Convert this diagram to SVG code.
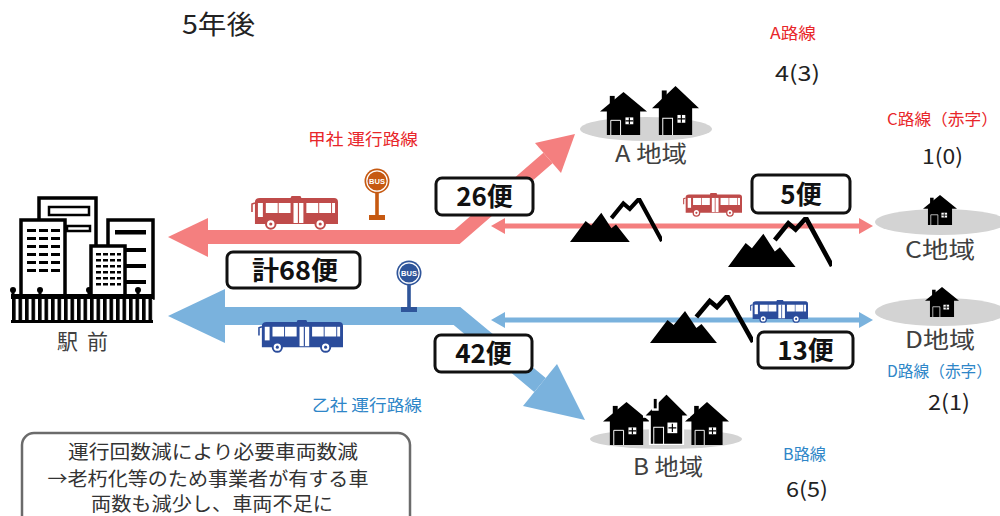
<svg xmlns="http://www.w3.org/2000/svg" xmlns:xlink="http://www.w3.org/1999/xlink" width="1000" height="516" viewBox="0 0 1000 516">
  <style>
    .jp { font-family: "Noto Sans CJK JP", "Noto Sans", sans-serif; }
    .area { font-size: 22.5px; fill: #404040; }
    .route { font-size: 16px; }
    .red { fill: #E8262A; }
    .blue { fill: #2E86C8; }
    .num { font-size: 21px; fill: #222; }
    .count { font-size: 26px; font-weight: 700; fill: #111; text-anchor: middle; }
    .cbox { fill: #fff; stroke: #111; stroke-width: 3; }
    .ground { fill: #D3D3D3; }
    .note { font-size: 19px; fill: #333; text-anchor: middle; }
  </style>
  <defs>
    <!-- house icon: roof, chimney, door outline, window -->
    <symbol id="house" viewBox="0 0 48 44" preserveAspectRatio="none">
      <path d="M24 0 L48 20 L41 20 L41 44 L7 44 L7 20 L0 20 Z" fill="#000"/>
      <rect x="10" y="4" width="5" height="10" fill="#000"/>
      <path d="M11 44 L11 29 L21 29 L21 44" fill="none" stroke="#fff" stroke-width="1"/>
      <rect x="26" y="26" width="8" height="7" fill="#fff"/>
      <path d="M30 26 V33 M26 29.5 H34" stroke="#000" stroke-width="1.2"/>
    </symbol>
    <!-- mountain icon: solid front range and outlined back peak -->
    <symbol id="mountain" viewBox="0 0 100 48" preserveAspectRatio="none">
      <path d="M0 48 L17 25 L23 30 L34 16 L45 33 L50 29 L65 48 Z" fill="#000"/>
      <path d="M45 22 L58 6 L65 12 L75 1 L100 47" fill="none" stroke="#000" stroke-width="4.5"/>
    </symbol>
    <!-- bus icon, drawn in currentColor -->
    <symbol id="bus" viewBox="0 0 88 34" preserveAspectRatio="none">
      <path d="M4 6 Q4 2 9 2 L40 2 L41 0 L50 0 L51 2 L84 2 Q88 2 88 6 L88 28 L4 28 Z" fill="currentColor"/>
      <path d="M4 7 L1 8 L1 16" fill="none" stroke="currentColor" stroke-width="1.6"/>
      <g fill="#fff">
        <rect x="7" y="7" width="5" height="14"/>
        <rect x="15" y="7" width="12" height="10"/>
        <rect x="28" y="7" width="12" height="10"/>
        <rect x="43" y="7" width="10" height="20"/>
        <rect x="56" y="7" width="12" height="10"/>
        <rect x="69" y="7" width="12" height="10"/>
        <rect x="82" y="7" width="3" height="10"/>
      </g>
      <path d="M48 7 V27" stroke="currentColor" stroke-width="1.2"/>
      <circle cx="20" cy="28" r="4.8" fill="#fff" stroke="currentColor" stroke-width="2"/>
      <circle cx="70" cy="28" r="4.8" fill="#fff" stroke="currentColor" stroke-width="2"/>
      <circle cx="20" cy="28" r="1.6" fill="currentColor"/>
      <circle cx="70" cy="28" r="1.6" fill="currentColor"/>
    </symbol>
    <!-- bus stop sign centred on its disc -->
    <symbol id="stop" viewBox="-14 -14 28 54" overflow="visible">
      <circle r="12.5" fill="currentColor"/>
      <circle r="10.2" fill="none" stroke="#fff" stroke-width="1.2"/>
      <text y="3" text-anchor="middle" font-family="Liberation Sans, sans-serif" font-weight="700" font-size="7.5" fill="#fff">BUS</text>
      <rect x="-1.8" y="12" width="3.6" height="23" fill="currentColor"/>
      <rect x="-8" y="34" width="16" height="5" fill="currentColor"/>
    </symbol>
    <pattern id="fence" x="12" y="0" width="6.5" height="40" patternUnits="userSpaceOnUse">
      <rect x="0" y="0" width="3.6" height="40" fill="#000"/>
    </pattern>
  </defs>

  <rect width="1000" height="516" fill="#fff"/>

  <!-- heading and route figures -->
  <g id="labels" class="jp">
    <text x="182" y="34" font-size="26" fill="#222" textLength="73" lengthAdjust="spacingAndGlyphs">5年後</text>
    <text x="770" y="39" class="route red" textLength="46" lengthAdjust="spacingAndGlyphs">A路線</text>
    <text x="775" y="81" class="num" textLength="45" lengthAdjust="spacingAndGlyphs">4(3)</text>
    <text x="887" y="125" class="route red" textLength="111" lengthAdjust="spacingAndGlyphs">C路線（赤字）</text>
    <text x="922" y="164" class="num" textLength="41" lengthAdjust="spacingAndGlyphs">1(0)</text>
    <text x="887" y="377" class="route blue" textLength="105" lengthAdjust="spacingAndGlyphs">D路線（赤字）</text>
    <text x="928" y="410" class="num" textLength="42" lengthAdjust="spacingAndGlyphs">2(1)</text>
    <text x="783" y="460" class="route blue" textLength="43" lengthAdjust="spacingAndGlyphs">B路線</text>
    <text x="786" y="497" class="num" textLength="42" lengthAdjust="spacingAndGlyphs">6(5)</text>
    <text x="308" y="145" class="route red" textLength="110" lengthAdjust="spacingAndGlyphs">甲社 運行路線</text>
    <text x="312" y="411" class="route blue" textLength="110" lengthAdjust="spacingAndGlyphs">乙社 運行路線</text>
  </g>

  <!-- connectors -->
  <g id="connectors">
    <!-- company A main route -->
    <path d="M205 237 L457 237 L548 158" fill="none" stroke="#F47F7F" stroke-width="14" stroke-linejoin="miter"/>
    <polygon points="168,237 208,218 208,257" fill="#F47F7F"/>
    <polygon points="575,134 535,143 561,173" fill="#F47F7F"/>
    <!-- company B main route -->
    <path d="M222 316 L457 316 L540 385" fill="none" stroke="#7AB2DD" stroke-width="18" stroke-linejoin="miter"/>
    <polygon points="168,316 225,289 225,343" fill="#7AB2DD"/>
    <polygon points="585,420 557,364 523,406" fill="#7AB2DD"/>
    <!-- route C -->
    <line x1="502" y1="226" x2="862" y2="226" stroke="#F47F7F" stroke-width="5"/>
    <polygon points="491,226 505,218 505,234" fill="#F47F7F"/>
    <polygon points="873,226 859,218 859,234" fill="#F47F7F"/>
    <!-- route D -->
    <line x1="502" y1="320" x2="862" y2="320" stroke="#7AB2DD" stroke-width="5"/>
    <polygon points="491,320 505,312 505,328" fill="#7AB2DD"/>
    <polygon points="873,320 859,312 859,328" fill="#7AB2DD"/>
  </g>

  <!-- station front -->
  <g id="station" stroke="#000" stroke-width="3.5">
    <rect x="39" y="198" width="57" height="100" fill="#fff"/>
    <rect x="49" y="207" width="40" height="8" fill="#fff" stroke-width="2.5"/>
    <rect x="67" y="226" width="23" height="5" fill="#fff" stroke-width="2.5"/>
    <rect x="108" y="220" width="45" height="78" fill="#fff"/>
    <g fill="#000" stroke="none">
      <rect x="115" y="230" width="31" height="4.5"/>
      <rect x="115" y="248" width="31" height="4"/>
      <rect x="115" y="264" width="31" height="4"/>
      <rect x="115" y="280" width="31" height="4"/>
    </g>
    <rect x="21" y="220" width="44" height="78" fill="#fff"/>
    <g fill="#000" stroke="none">
      <rect x="27" y="229" width="9" height="3"/><rect x="39" y="229" width="9" height="3"/><rect x="51" y="229" width="9" height="3"/>
      <rect x="27" y="237" width="9" height="3"/><rect x="39" y="237" width="9" height="3"/><rect x="51" y="237" width="9" height="3"/>
      <rect x="27" y="245" width="9" height="3"/><rect x="39" y="245" width="9" height="3"/><rect x="51" y="245" width="9" height="3"/>
      <rect x="27" y="253" width="9" height="3"/><rect x="39" y="253" width="9" height="3"/><rect x="51" y="253" width="9" height="3"/>
      <rect x="27" y="261" width="9" height="3"/><rect x="39" y="261" width="9" height="3"/><rect x="51" y="261" width="9" height="3"/>
      <rect x="27" y="269" width="9" height="3"/><rect x="39" y="269" width="9" height="3"/><rect x="51" y="269" width="9" height="3"/>
    </g>
    <rect x="91" y="246" width="34" height="50" fill="#fff"/>
    <g fill="#000" stroke="none">
      <rect x="96" y="253" width="5" height="2.5"/><rect x="103" y="253" width="5" height="2.5"/><rect x="110" y="253" width="5" height="2.5"/><rect x="117" y="253" width="4" height="2.5"/>
      <rect x="96" y="259" width="5" height="2.5"/><rect x="103" y="259" width="5" height="2.5"/><rect x="110" y="259" width="5" height="2.5"/><rect x="117" y="259" width="4" height="2.5"/>
      <rect x="96" y="265" width="5" height="2.5"/><rect x="103" y="265" width="5" height="2.5"/><rect x="110" y="265" width="5" height="2.5"/><rect x="117" y="265" width="4" height="2.5"/>
      <rect x="96" y="271" width="5" height="2.5"/><rect x="103" y="271" width="5" height="2.5"/><rect x="110" y="271" width="5" height="2.5"/><rect x="117" y="271" width="4" height="2.5"/>
      <rect x="96" y="277" width="5" height="2.5"/><rect x="103" y="277" width="5" height="2.5"/><rect x="110" y="277" width="5" height="2.5"/><rect x="117" y="277" width="4" height="2.5"/>
      <rect x="96" y="283" width="5" height="2.5"/><rect x="103" y="283" width="5" height="2.5"/><rect x="110" y="283" width="5" height="2.5"/><rect x="117" y="283" width="4" height="2.5"/>
    </g>
    <!-- fence -->
    <g stroke="none" fill="#000">
      <rect x="11" y="296" width="142" height="27" fill="#fff"/>
      <rect x="11" y="296" width="142" height="27" fill="url(#fence)"/>
      <rect x="11" y="294" width="142" height="5"/>
      <rect x="11" y="320" width="142" height="3"/>
      <circle cx="13" cy="290" r="3"/><rect x="11.5" y="290" width="3" height="5"/>
      <circle cx="40" cy="290" r="3"/><rect x="38.5" y="290" width="3" height="5"/>
      <circle cx="89" cy="290" r="3"/><rect x="87.5" y="290" width="3" height="5"/>
      <circle cx="138" cy="290" r="3"/><rect x="136.5" y="290" width="3" height="5"/>
    </g>
    <text class="jp" x="57" y="349" font-size="21" fill="#404040" stroke="none">駅<tspan x="87">前</tspan></text>
  </g>

  <!-- buses and stops -->
  <g id="bus-a">
    <use xlink:href="#bus" x="251" y="196" width="87" height="34" color="#BF4B4A"/>
  </g>
  <g id="bus-b">
    <use xlink:href="#bus" x="258" y="320" width="85" height="33" color="#2B4C9B"/>
  </g>
  <g id="bus-c">
    <use xlink:href="#bus" x="683" y="193" width="59" height="24" color="#BF4B4A"/>
  </g>
  <g id="bus-d">
    <use xlink:href="#bus" x="750" y="300" width="58" height="23" color="#2B4C9B"/>
  </g>
  <g id="stop-a">
    <use xlink:href="#stop" x="363" y="167" width="28" height="54" color="#C65911"/>
  </g>
  <g id="stop-b">
    <use xlink:href="#stop" x="395" y="259" width="28" height="54" color="#2F559A"/>
  </g>

  <!-- mountains along routes C and D -->
  <g id="mountains">
    <use xlink:href="#mountain" x="570" y="198" width="92" height="44"/>
    <use xlink:href="#mountain" x="728" y="217" width="104" height="50"/>
    <use xlink:href="#mountain" x="650" y="295" width="103" height="48"/>
  </g>

  <!-- trip counts -->
  <g id="count-total">
    <rect x="227" y="252" width="133" height="36" rx="6" class="cbox"/>
    <text x="295" y="279.5" class="jp count" textLength="86" lengthAdjust="spacingAndGlyphs">計68便</text>
  </g>
  <g id="count-a">
    <rect x="436" y="178" width="97" height="37" rx="6" class="cbox"/>
    <text x="484.5" y="206" class="jp count">26便</text>
  </g>
  <g id="count-b">
    <rect x="435" y="335" width="97" height="37" rx="6" class="cbox"/>
    <text x="483.5" y="363" class="jp count">42便</text>
  </g>
  <g id="count-c">
    <rect x="752" y="175" width="98" height="38" rx="6" class="cbox"/>
    <text x="801" y="203.5" class="jp count">5便</text>
  </g>
  <g id="count-d">
    <rect x="758" y="332" width="95" height="36" rx="6" class="cbox"/>
    <text x="805.5" y="359.5" class="jp count">13便</text>
  </g>

  <!-- destination areas -->
  <g id="area-a">
    <ellipse cx="646" cy="129" rx="66" ry="12" class="ground"/>
    <use xlink:href="#house" x="600" y="92" width="47" height="43"/>
    <use xlink:href="#house" x="652" y="86" width="47" height="49"/>
    <text x="615" y="162" class="jp area" textLength="72" lengthAdjust="spacingAndGlyphs">A 地域</text>
  </g>
  <g id="area-b">
    <ellipse cx="666" cy="439" rx="76" ry="10" class="ground"/>
    <use xlink:href="#house" x="603" y="402" width="47" height="43"/>
    <use xlink:href="#house" x="685" y="402" width="44" height="43"/>
    <use xlink:href="#house" x="643" y="393" width="47" height="52" stroke="#fff" stroke-width="2"/>
    <text x="633" y="475" class="jp area" textLength="70" lengthAdjust="spacingAndGlyphs">B 地域</text>
  </g>
  <g id="area-c">
    <ellipse cx="941" cy="222" rx="66" ry="13" class="ground"/>
    <use xlink:href="#house" x="923" y="195" width="34" height="30"/>
    <text x="905" y="258" class="jp area" textLength="70" lengthAdjust="spacingAndGlyphs">C地域</text>
  </g>
  <g id="area-d">
    <ellipse cx="941" cy="312" rx="66" ry="14" class="ground"/>
    <use xlink:href="#house" x="925" y="287" width="34" height="30"/>
    <text x="905" y="348" class="jp area" textLength="70" lengthAdjust="spacingAndGlyphs">D地域</text>
  </g>

  <!-- summary note -->
  <g id="note">
    <rect x="22" y="433" width="388" height="95" rx="12" fill="#fff" stroke="#6B6B6B" stroke-width="2.5"/>
    <text x="213" y="459" class="jp note" textLength="290" lengthAdjust="spacingAndGlyphs">運行回数減により必要車両数減</text>
    <text x="208" y="486" class="jp note" textLength="321" lengthAdjust="spacingAndGlyphs">→老朽化等のため事業者が有する車</text>
    <text x="212" y="511" class="jp note" textLength="242" lengthAdjust="spacingAndGlyphs">両数も減少し、車両不足に</text>
  </g>
</svg>
